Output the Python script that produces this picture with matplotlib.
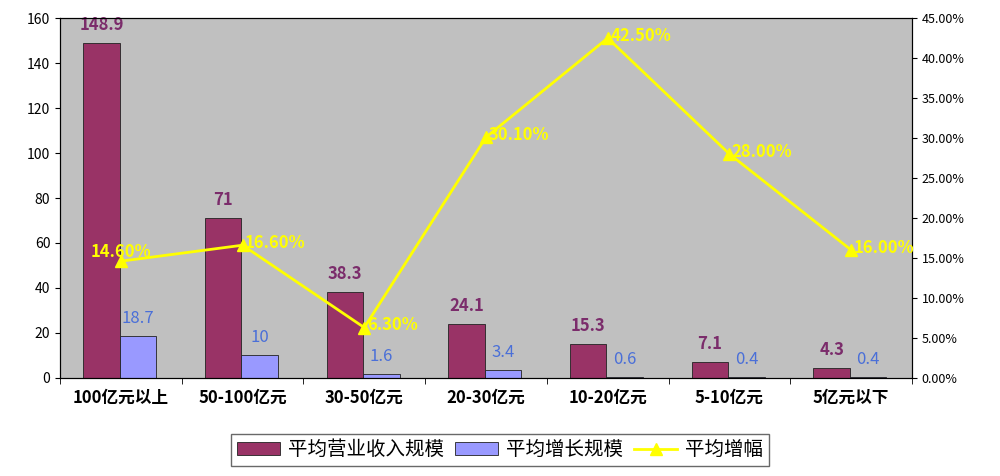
import matplotlib
matplotlib.use("Agg")
import matplotlib.pyplot as plt
import numpy as np

plt.rcParams['font.family'] = ['Noto Sans CJK SC', 'DejaVu Sans']

categories = ["100亿元以上", "50-100亿元", "30-50亿元", "20-30亿元", "10-20亿元", "5-10亿元", "5亿元以下"]
revenue = [148.9, 71, 38.3, 24.1, 15.3, 7.1, 4.3]
growth = [18.7, 10, 1.6, 3.4, 0.6, 0.4, 0.4]
rate = [14.6, 16.6, 6.3, 30.1, 42.5, 28.0, 16.0]
rev_labels = ["148.9", "71", "38.3", "24.1", "15.3", "7.1", "4.3"]
gro_labels = ["18.7", "10", "1.6", "3.4", "0.6", "0.4", "0.4"]

fig = plt.figure(figsize=(10, 4.76), dpi=100)
ax = fig.add_axes([0.06, 0.206, 0.852, 0.756])
ax.set_facecolor('#C0C0C0')
x = np.arange(len(categories))
w = 0.3
b1 = ax.bar(x - 0.16, revenue, w, color='#993366', edgecolor='#222222', linewidth=0.6, label='平均营业收入规模')
b2 = ax.bar(x + 0.14, growth, w, color='#9999FF', edgecolor='#222222', linewidth=0.6, label='平均增长规模')
for xi, v, t in zip(x, revenue, rev_labels):
    ax.text(xi - 0.16, v + 4, t, ha='center', va='bottom', color='#7B2C6B', fontsize=12, fontweight='bold')
for xi, v, t in zip(x, growth, gro_labels):
    ax.text(xi + 0.14, v + 4, t, ha='center', va='bottom', color='#4A6FD8', fontsize=12)
ax.set_xlim(-0.5, len(categories) - 0.5)
ax.set_ylim(0, 160)
ax.set_yticks(range(0, 161, 20))
ax.set_xticks(x)
ax.set_xticklabels(categories, fontsize=12, fontweight='bold')
ax.tick_params(axis='y', labelsize=10)
ax.set_xticks(np.arange(-0.5, len(categories), 1), minor=True)
ax.tick_params(axis='x', which='major', length=0, pad=8)
ax.tick_params(axis='x', which='minor', length=4)

ax2 = ax.twinx()
ax2.set_ylim(0, 45)
ax2.set_yticks(np.arange(0, 46, 5))
ax2.set_yticklabels([f"{v:.2f}%" for v in np.arange(0, 46, 5)], fontsize=9)
ln, = ax2.plot(x, rate, color='#FFFF00', marker='^', markersize=9, linewidth=2, label='平均增幅')
for i, (xi, v) in enumerate(zip(x, rate)):
    if i == 0:
        ax2.text(xi, v + 1.2, f"{v:.2f}%", ha='center', va='center', color='#FFFF00', fontsize=12, fontweight='bold')
    else:
        ax2.text(xi + 0.02, v + 0.3, f"{v:.2f}%", ha='left', va='center', color='#FFFF00', fontsize=12, fontweight='bold')

fig.legend([b1, b2, ln], ['平均营业收入规模', '平均增长规模', '平均增幅'], loc='lower center',
           bbox_to_anchor=(0.5, 0.0), ncol=3, fontsize=14, frameon=True, fancybox=False,
           edgecolor='#444444', handlelength=2.2, handletextpad=0.4, columnspacing=0.6, borderpad=0.3)
fig.savefig('out.png', dpi=100)
